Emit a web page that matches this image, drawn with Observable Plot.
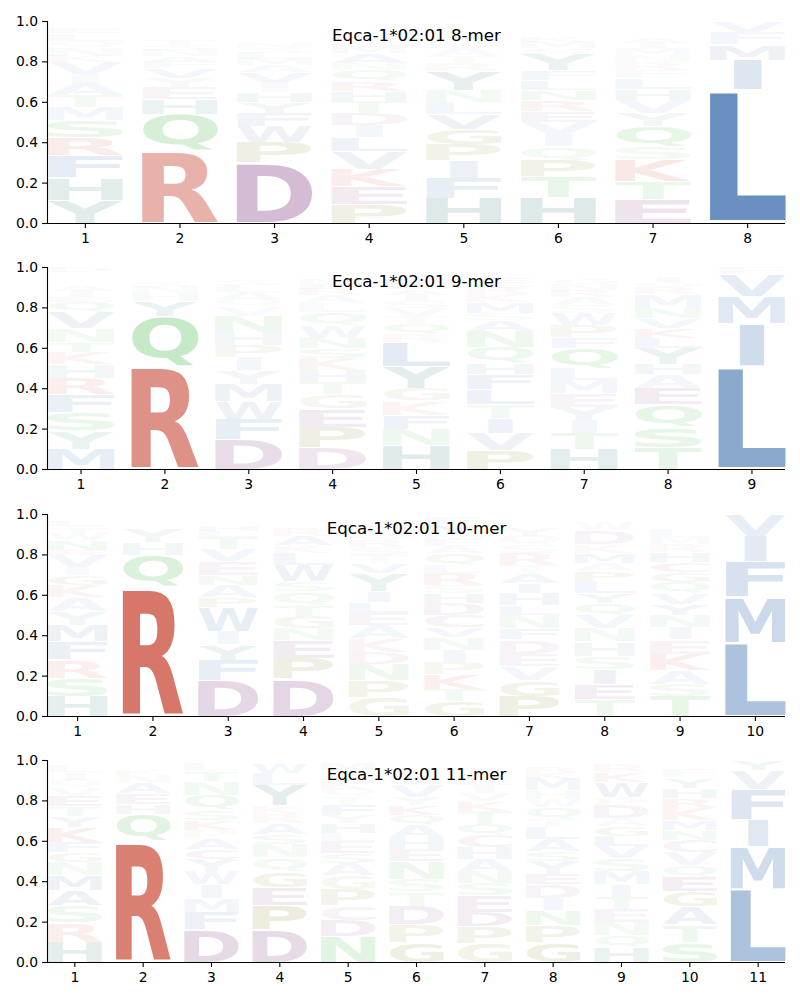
<!DOCTYPE html>
<html>
<head>
<meta charset="utf-8">
<script src="https://cdn.jsdelivr.net/npm/d3@7"></script>
<script src="https://cdn.jsdelivr.net/npm/@observablehq/plot@0.6"></script>
<style>
  body { margin: 0; background: #ffffff; }
  #chart svg { display: block; }
</style>
</head>
<body>
<div id="chart"></div>
<script>
// ---------------- data (each position: residues bottom -> top, [residue, frequency]) ----------------
const allele = "Eqca-1*02:01";
const yTicks = [0.0, 0.2, 0.4, 0.6, 0.8, 1.0];

const mer8 = [
  [["Y",.115],["H",.11],["F",.11],["R",.09],["S",.085],["M",.065],["T",.06],["A",.06],["I",.045],["V",.06],["K",.03],["N",.04],["Q",.035],["L",.035],["E",.025],["W",.02],["G",.015]],
  [["R",.36],["Q",.18],["H",.075],["E",.06],["Y",.045],["V",.05],["F",.03],["A",.03],["N",.03],["S",.025],["T",.025],["K",.02],["M",.02],["L",.02],["G",.015],["I",.015]],
  [["D",.30],["P",.10],["W",.08],["F",.065],["Y",.055],["H",.05],["I",.045],["V",.055],["A",.035],["M",.03],["L",.03],["S",.025],["N",.025],["T",.02],["E",.02],["G",.02],["K",.015],["R",.015],["Q",.015]],
  [["P",.095],["E",.09],["K",.085],["V",.085],["L",.07],["I",.06],["D",.06],["T",.06],["H",.05],["R",.05],["Q",.055],["N",.035],["A",.05],["M",.03],["G",.03],["Y",.025],["F",.02],["S",.02],["W",.015],["C",.015]],
  [["H",.125],["F",.10],["I",.085],["P",.08],["G",.075],["V",.075],["L",.06],["N",.06],["Y",.095],["R",.04],["T",.035],["A",.04],["S",.03],["K",.025],["M",.02],["E",.02],["Q",.02],["W",.015]],
  [["H",.13],["T",.10],["P",.08],["Q",.07],["I",.06],["V",.06],["E",.055],["R",.055],["N",.05],["L",.05],["F",.05],["Y",.08],["S",.03],["M",.03],["K",.025],["W",.02],["A",.02],["G",.015],["D",.02]],
  [["E",.12],["T",.09],["K",.105],["S",.065],["Q",.10],["Y",.065],["V",.065],["H",.055],["L",.055],["F",.04],["R",.04],["N",.035],["M",.03],["I",.03],["A",.025],["G",.02],["W",.02],["D",.015],["P",.015],["C",.01]],
  [["L",.66],["I",.15],["M",.075],["F",.06],["V",.055]]
];

const mer9 = [
  [["M",.10],["Y",.09],["S",.09],["F",.09],["R",.08],["H",.07],["K",.06],["T",.05],["N",.07],["V",.08],["Q",.05],["E",.025],["I",.03],["A",.025],["L",.02],["G",.02],["W",.015],["P",.01],["D",.025]],
  [["R",.51],["Q",.25],["Y",.075],["H",.04],["N",.03],["S",.025],["K",.02],["T",.015],["F",.015],["L",.01],["M",.01]],
  [["D",.15],["F",.10],["W",.085],["M",.085],["Y",.07],["I",.065],["P",.06],["H",.065],["N",.08],["V",.045],["Q",.04],["A",.035],["L",.03],["S",.025],["T",.02],["E",.02],["G",.015],["K",.01]],
  [["D",.11],["P",.10],["E",.09],["G",.07],["T",.06],["H",.06],["K",.06],["S",.05],["N",.05],["W",.06],["Q",.07],["L",.045],["A",.04],["R",.03],["F",.025],["M",.025],["V",.02],["I",.02],["Y",.015]],
  [["H",.12],["N",.08],["F",.07],["K",.07],["G",.06],["Y",.11],["L",.12],["R",.04],["Q",.05],["T",.04],["V",.04],["S",.035],["I",.03],["A",.03],["E",.025],["M",.025],["P",.02],["D",.015],["W",.02]],
  [["P",.095],["V",.085],["I",.075],["T",.065],["L",.075],["F",.075],["H",.055],["Q",.08],["N",.08],["A",.055],["S",.035],["M",.055],["K",.04],["R",.03],["G",.025],["E",.025],["Y",.02],["D",.015],["W",.015]],
  [["H",.10],["T",.08],["I",.065],["Y",.065],["E",.065],["M",.065],["L",.06],["Q",.10],["F",.055],["P",.06],["W",.06],["S",.04],["A",.04],["R",.03],["N",.03],["G",.025],["K",.02],["V",.02],["D",.02]],
  [["T",.11],["S",.10],["Q",.11],["E",.08],["A",.07],["H",.05],["Y",.08],["L",.05],["K",.05],["V",.05],["N",.05],["M",.07],["R",.035],["G",.025],["I",.025],["F",.02],["P",.015],["D",.01]],
  [["L",.51],["I",.21],["M",.135],["V",.11],["F",.035]]
];

const mer10 = [
  [["H",.10],["S",.09],["R",.09],["F",.09],["M",.08],["Y",.07],["A",.07],["K",.06],["G",.05],["I",.04],["V",.06],["E",.025],["N",.05],["W",.035],["T",.03],["L",.025],["D",.02],["Q",.015]],
  [["R",.64],["Q",.16],["H",.06],["Y",.065],["N",.02],["S",.02],["K",.015],["T",.01],["F",.01]],
  [["D",.18],["F",.10],["Y",.075],["I",.065],["W",.12],["P",.05],["A",.06],["N",.05],["E",.07],["V",.06],["T",.06],["L",.03],["H",.025],["S",.02],["G",.015],["K",.01],["M",.01]],
  [["D",.185],["P",.10],["E",.09],["N",.06],["G",.06],["T",.055],["Q",.07],["S",.05],["W",.08],["L",.06],["K",.035],["A",.05],["R",.04],["M",.02],["F",.015],["I",.015],["V",.015]],
  [["G",.095],["P",.085],["N",.08],["D",.06],["K",.065],["A",.065],["E",.06],["L",.055],["I",.055],["Y",.09],["V",.05],["T",.04],["S",.04],["R",.035],["Q",.03],["H",.025],["M",.025],["F",.02],["W",.015],["C",.01]],
  [["G",.075],["T",.06],["K",.075],["P",.06],["I",.06],["N",.06],["V",.05],["C",.06],["D",.06],["H",.05],["S",.04],["R",.06],["L",.04],["Q",.06],["A",.035],["E",.03],["M",.025],["Y",.05],["F",.035],["W",.015]],
  [["P",.10],["G",.08],["V",.07],["E",.06],["D",.07],["F",.055],["N",.065],["L",.05],["H",.06],["I",.05],["A",.05],["T",.04],["R",.06],["S",.04],["Q",.045],["Y",.04],["K",.02],["M",.015],["W",.01],["C",.02]],
  [["T",.085],["E",.075],["I",.075],["S",.065],["H",.07],["N",.065],["V",.065],["Q",.06],["Y",.05],["L",.06],["P",.05],["A",.04],["M",.05],["K",.04],["D",.07],["W",.04],["R",.02],["G",.02]],
  [["T",.10],["S",.06],["A",.07],["K",.08],["E",.07],["I",.06],["N",.06],["Y",.055],["V",.055],["Q",.055],["G",.05],["C",.05],["H",.05],["R",.04],["M",.035],["L",.04],["F",.02],["D",.02],["W",.015],["P",.015]],
  [["L",.364],["M",.226],["F",.175],["I",.125],["V",.11]]
];

const mer11 = [
  [["H",.10],["R",.095],["S",.085],["A",.075],["M",.075],["N",.065],["G",.05],["F",.05],["K",.075],["Y",.055],["T",.05],["E",.05],["V",.04],["Q",.04],["I",.035],["L",.03],["W",.02],["D",.01]],
  [["R",.60],["Q",.135],["H",.05],["E",.05],["A",.055],["N",.04],["K",.025],["S",.02],["T",.015],["V",.01]],
  [["D",.165],["F",.085],["M",.07],["I",.065],["W",.065],["Y",.06],["C",.05],["A",.055],["P",.04],["K",.05],["S",.05],["Q",.075],["N",.065],["T",.05],["L",.04],["E",.015]],
  [["D",.16],["P",.12],["E",.09],["G",.08],["Q",.07],["N",.065],["S",.05],["A",.055],["R",.045],["K",.04],["Y",.10],["L",.06],["W",.05],["T",.015]],
  [["N",.128],["D",.082],["C",.07],["P",.08],["G",.07],["A",.06],["S",.05],["E",.06],["L",.04],["H",.05],["Y",.04],["F",.05],["T",.04],["Q",.04],["K",.03],["R",.025],["V",.02],["I",.015],["M",.03],["W",.02]],
  [["G",.10],["P",.086],["D",.094],["T",.07],["S",.06],["N",.09],["E",.06],["H",.06],["A",.06],["Q",.05],["K",.05],["Y",.04],["V",.06],["I",.03],["L",.03],["F",.02],["R",.02],["M",.01],["W",.01]],
  [["G",.095],["P",.083],["D",.072],["E",.08],["S",.06],["N",.06],["A",.06],["H",.06],["C",.06],["Q",.055],["T",.065],["K",.05],["V",.04],["I",.04],["L",.03],["R",.025],["M",.02],["Y",.02],["F",.015],["W",.01]],
  [["G",.10],["P",.085],["N",.075],["I",.06],["D",.065],["E",.05],["Y",.065],["S",.05],["A",.06],["L",.06],["T",.04],["Q",.06],["W",.04],["H",.04],["M",.06],["K",.03],["R",.025],["V",.02],["F",.015]],
  [["H",.075],["Q",.06],["N",.065],["E",.065],["T",.06],["I",.06],["M",.065],["S",.065],["V",.06],["L",.05],["G",.05],["A",.04],["D",.065],["P",.035],["W",.075],["K",.05],["R",.04],["Y",.015]],
  [["S",.10],["T",.085],["A",.09],["G",.075],["E",.075],["Q",.055],["V",.065],["C",.06],["N",.05],["M",.05],["K",.06],["R",.05],["H",.05],["Y",.05],["F",.04],["L",.02],["I",.015],["D",.01]],
  [["L",.364],["M",.21],["I",.135],["F",.15],["V",.095],["Y",.046]]
];

const panels = [
  {length: 8, columns: mer8},
  {length: 9, columns: mer9},
  {length: 10, columns: mer10},
  {length: 11, columns: mer11}
];

// residue colour classes (used as the ordinal colour scale)
const residues = ["R","K","D","E","C","A","I","L","M","F","W","V","N","Q","S","T","G","P","H","Y"];
const residueColors = ["#cc5544","#cc5544","#8c4c8c","#8c4c8c","#8c4c8c","#4a78b4","#4a78b4","#4a78b4","#4a78b4","#4a78b4","#4a78b4","#4a78b4","#4ab84e","#4ab84e","#4ab84e","#4ab84e","#868020","#868020","#2f7a76","#2f7a76"];

// ---------------- glyph metrics (tight ink box of each bold letter) ----------------
const FONT_PX = 100;
const FONT_FAMILY = "DejaVu Sans";
const ctx = document.createElement("canvas").getContext("2d");
ctx.font = `bold ${FONT_PX}px "${FONT_FAMILY}"`;
const glyphCache = {};
function glyph(ch) {
  if (!glyphCache[ch]) {
    const m = ctx.measureText(ch);
    glyphCache[ch] = {l: m.actualBoundingBoxLeft, r: m.actualBoundingBoxRight, a: m.actualBoundingBoxAscent, d: m.actualBoundingBoxDescent};
  }
  return glyphCache[ch];
}
const widthE = glyph("E").l + glyph("E").r;

const SVG_H = 246, PLOT_H = 202;
const marginTops = [21, 21, 22, 22];
const LETTER_W = 0.8, VPAD = 0.05;

panels.forEach((panel, pi) => {
  const rows = [];
  panel.columns.forEach((stack, i) => {
    let base = 0;
    stack.forEach(([aa, f]) => {
      rows.push({pos: i + 1, aa, f, y0: base, y1: base + f});
      base += f;
    });
  });
  const positions = d3.range(1, panel.length + 1);
  const mt = marginTops[pi];

  const plot = Plot.plot({
    width: 800,
    height: SVG_H,
    marginTop: mt,
    marginBottom: SVG_H - mt - PLOT_H,
    marginLeft: 47,
    marginRight: 15,
    style: {fontFamily: FONT_FAMILY, fontSize: "13.9px", background: "#ffffff", color: "#000000", overflow: "visible"},
    x: {domain: [1 - LETTER_W / 2, panel.length + LETTER_W / 2], label: null},
    y: {domain: [0, 1], label: null},
    color: {type: "ordinal", domain: residues, range: residueColors},
    opacity: {type: "linear", domain: [0, 0.8], range: [0, 1], clamp: true},
    marks: [
      Plot.text(rows, {
        x: "pos",
        y: d => (d.y0 + d.y1) / 2,
        text: "aa",
        fill: "aa",
        fillOpacity: {value: d => d.f, scale: "opacity"},
        fontSize: FONT_PX,
        fontWeight: "bold",
        fontFamily: FONT_FAMILY
      }),
      Plot.ruleY([0], {stroke: "#000", strokeWidth: 1.1}),
      Plot.ruleX([1 - LETTER_W / 2], {stroke: "#000", strokeWidth: 1.1}),
      Plot.axisX({ticks: positions, tickFormat: d => String(d), tickSize: 5, tickPadding: 5, fontSize: 13.9, strokeWidth: 1.1, label: null}),
      Plot.axisY({ticks: yTicks, tickFormat: d3.format(".1f"), tickSize: 5, tickPadding: 4.5, fontSize: 13.9, strokeWidth: 1.1, label: null}),
      Plot.text([`${allele} ${panel.length}-mer`], {frameAnchor: "top", lineAnchor: "top", dy: 8, fontSize: 16.7, fill: "#000"})
    ]
  });
  document.getElementById("chart").append(plot);

  // fit each letter glyph into its stacked box, using the plot's own scales
  const xs = plot.scale("x"), ys = plot.scale("y");
  const groups = Array.from(plot.querySelectorAll("g"));
  const logoGroup = groups.find(g => g.querySelectorAll(":scope > text").length === rows.length);
  if (!logoGroup) return;
  const texts = logoGroup.querySelectorAll(":scope > text");
  texts.forEach((t, j) => {
    const d = rows[j];
    const g = glyph(d.aa);
    const inkW = g.l + g.r, inkH = g.a + g.d;
    const cx = xs.apply(d.pos);
    const boxW = xs.apply(d.pos + LETTER_W / 2) - xs.apply(d.pos - LETTER_W / 2);
    const pad = (VPAD / 2) * d.f;
    const top = ys.apply(d.y1 - pad), bottom = ys.apply(d.y0 + pad);
    const sx = boxW / Math.max(inkW, widthE);
    const sy = (bottom - top) / inkH;
    const x0 = cx - sx * inkW / 2;
    ["x", "y", "dx", "dy"].forEach(a => t.removeAttribute(a));
    t.setAttribute("text-anchor", "start");
    t.setAttribute("transform", `translate(${x0},${top}) scale(${sx},${sy}) translate(${g.l},${g.a})`);
  });
});
</script>
</body>
</html>
